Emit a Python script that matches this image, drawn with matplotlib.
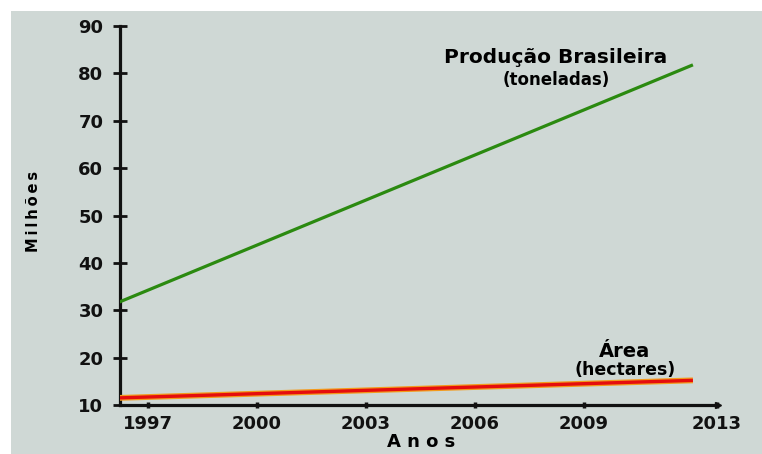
import matplotlib
matplotlib.use("Agg")
import matplotlib.pyplot as plt
from matplotlib.patches import Rectangle

# ---- data ----
years_line = [1996.2, 2012.0]
producao = [31.7, 81.8]      # milhões de toneladas
area = [11.5, 15.2]          # milhões de hectares
xtick_pos = [1997, 2000, 2003, 2006, 2009, 2012.65]
xtick_labels = ["1997", "2000", "2003", "2006", "2009", "2013"]
ytick_vals = [10, 20, 30, 40, 50, 60, 70, 80, 90]

plt.rcParams['font.family'] = ['DejaVu Sans']

W, H = 762, 454
fig = plt.figure(figsize=(W / 100, H / 100), dpi=100)
fig.patch.set_facecolor('white')
bg = '#cfd8d5'
fig.patches.append(Rectangle((11 / W, 0), 1 - 11 / W, 1 - 11 / H,
                             transform=fig.transFigure, facecolor=bg,
                             edgecolor='none', zorder=-10))

ax = fig.add_axes([120 / W, 1 - 405 / H, (718 - 120) / W, (405 - 26) / H])
ax.set_facecolor('none')

ax.plot(years_line, producao, color='#2b8a10', lw=2.3, solid_capstyle='butt', zorder=3)
ax.plot(years_line, area, color='#f39a1c', lw=4.2, solid_capstyle='butt', zorder=3)
ax.plot(years_line, area, color='#e50d0d', lw=2.4, solid_capstyle='butt', zorder=4)

ax.set_xlim(1996.23, 2012.69)
ax.set_ylim(10, 90)

for s in ['top', 'right']:
    ax.spines[s].set_visible(False)
for s in ['left', 'bottom']:
    ax.spines[s].set_linewidth(2.3)
    ax.spines[s].set_color('#111111')

# arrow tip at the end of the x axis
ax.plot([1], [0], marker='>', color='#111111', markersize=5,
        transform=ax.transAxes, clip_on=False)

ax.set_yticks(ytick_vals)
ax.set_yticklabels([str(v) for v in ytick_vals], fontsize=13, fontweight='bold')
ax.set_xticks(xtick_pos)
ax.set_xticklabels(xtick_labels, fontsize=13, fontweight='bold')
ax.tick_params(axis='y', direction='inout', length=10, width=2, pad=7, colors='#111111')
ax.tick_params(axis='x', direction='inout', length=5, width=2.5, pad=5, colors='#111111')

ts = '\u2009'
ax.set_ylabel(ts.join('Milhões'), fontsize=10.5, fontweight='bold', va='center')
ax.yaxis.set_label_coords(-0.145, 0.51)
ax.set_xlabel('A n o s', fontsize=13, fontweight='bold', va='center')
ax.xaxis.set_label_coords(0.503, -0.097)

ax.text(2008.23, 83.3, 'Produção Brasileira', ha='center', va='center',
        fontsize=14.5, fontweight='bold')
ax.text(2008.23, 78.6, '(toneladas)', ha='center', va='center',
        fontsize=12, fontweight='bold')
ax.text(2010.13, 21.2, 'Área', ha='center', va='center',
        fontsize=14, fontweight='bold')
ax.text(2010.13, 17.4, '(hectares)', ha='center', va='center',
        fontsize=12.5, fontweight='bold')

fig.savefig('out.png', dpi=100, facecolor=fig.get_facecolor())
